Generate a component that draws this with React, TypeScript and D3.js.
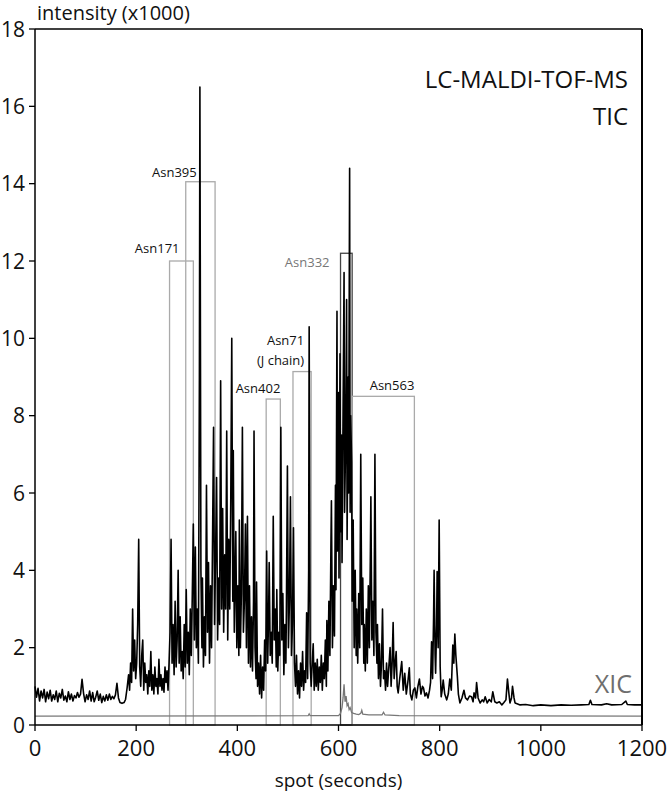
import React from "react";
import * as d3 from "d3";

// TIC trace: [spot (s), intensity x1000]
const tic: [number, number][] = [
  [0, 1.0], [3, 0.72], [6, 0.95], [9, 0.62], [12, 0.88], [15, 0.7], [18, 0.92], [21, 0.6], [24, 0.85], [27, 0.68],
  [30, 0.9], [33, 0.62], [36, 0.78], [39, 0.66], [42, 0.88], [45, 0.6], [48, 0.82], [51, 0.7], [54, 0.92], [57, 0.64],
  [60, 0.75], [63, 0.6], [66, 0.86], [69, 0.66], [72, 0.8], [75, 0.62], [78, 0.76], [81, 0.7], [84, 0.84], [87, 0.72],
  [90, 0.8], [93, 1.18], [96, 0.82], [99, 0.6], [102, 0.78], [105, 0.66], [108, 0.88], [111, 0.62], [114, 0.84], [117, 0.6],
  [120, 0.72], [123, 0.88], [126, 0.64], [129, 0.8], [132, 0.58], [135, 0.74], [138, 0.62], [141, 0.78], [144, 0.64], [147, 0.8],
  [150, 0.66], [153, 0.74], [156, 0.68], [159, 0.78], [162, 1.08], [165, 0.7], [168, 0.58], [172, 0.56], [176, 0.58], [179, 0.66],
  [182, 0.95], [185, 1.3], [187, 0.9], [189, 1.6], [191, 1.1], [193, 3.0], [195, 1.4], [197, 2.2], [199, 1.2], [201, 1.6],
  [203, 2.6], [205, 4.8], [207, 1.5], [209, 1.0], [211, 1.8], [213, 2.2], [215, 0.9], [217, 1.6], [219, 1.1], [221, 1.3],
  [223, 0.8], [225, 1.4], [227, 1.0], [229, 1.9], [231, 0.9], [233, 1.3], [235, 0.8], [237, 1.5], [239, 1.0], [241, 1.2],
  [243, 0.8], [245, 1.7], [247, 1.0], [249, 1.3], [251, 0.9], [253, 1.2], [255, 0.85], [257, 1.5], [259, 1.1], [261, 1.4],
  [263, 0.9], [265, 1.6], [267, 2.4], [269, 4.8], [271, 1.6], [273, 2.6], [275, 1.3], [277, 3.2], [279, 1.5], [281, 2.2],
  [283, 4.0], [285, 1.6], [287, 2.8], [289, 1.4], [291, 1.9], [293, 1.2], [295, 2.6], [297, 1.5], [299, 3.5], [301, 1.6],
  [303, 2.4], [305, 1.3], [307, 3.0], [309, 1.8], [311, 3.4], [313, 5.2], [315, 2.2], [317, 4.6], [319, 2.0], [321, 3.0],
  [323, 1.6], [325, 9.0], [326, 16.5], [328, 4.0], [330, 2.0], [331, 3.8], [333, 1.5], [335, 2.8], [337, 1.8], [339, 6.2],
  [341, 2.4], [343, 4.2], [345, 1.6], [347, 3.6], [349, 2.0], [351, 4.8], [353, 7.7], [355, 2.6], [357, 4.4], [359, 6.4],
  [361, 2.2], [363, 3.8], [365, 2.6], [367, 8.9], [369, 3.0], [371, 5.6], [373, 2.4], [375, 4.4], [377, 3.0], [379, 7.6],
  [381, 2.2], [383, 4.8], [385, 3.0], [387, 5.8], [389, 10.0], [391, 3.2], [392, 7.1], [394, 2.4], [396, 4.0], [397, 5.0],
  [399, 2.0], [401, 3.6], [403, 1.8], [404, 5.3], [406, 2.0], [408, 3.4], [410, 7.7], [412, 2.4], [414, 3.2], [416, 5.2],
  [418, 2.0], [420, 5.4], [422, 1.6], [424, 3.6], [426, 1.5], [428, 2.8], [430, 1.4], [432, 3.2], [433, 7.6], [435, 2.0],
  [437, 1.2], [438, 3.7], [440, 1.0], [442, 1.6], [444, 0.8], [446, 1.8], [448, 0.7], [450, 1.5], [452, 0.9], [454, 2.2],
  [456, 1.4], [458, 4.5], [460, 1.6], [462, 3.0], [463, 4.2], [465, 1.8], [467, 2.4], [469, 1.6], [471, 5.4], [473, 2.2],
  [475, 3.0], [477, 1.5], [478, 3.5], [480, 1.4], [482, 2.4], [484, 1.8], [486, 7.7], [488, 2.2], [490, 3.4], [492, 1.3],
  [494, 2.6], [496, 1.6], [497, 3.0], [499, 6.7], [501, 2.0], [503, 3.2], [505, 5.9], [507, 1.8], [509, 2.6], [511, 5.1],
  [513, 1.6], [515, 1.0], [517, 1.8], [519, 0.8], [521, 1.4], [523, 0.7], [525, 1.6], [527, 1.0], [529, 1.9], [531, 0.9],
  [533, 1.4], [535, 1.1], [537, 2.9], [539, 1.2], [541, 4.0], [542, 10.3], [544, 1.6], [546, 1.0], [548, 1.6], [550, 2.1],
  [552, 0.9], [554, 1.6], [556, 1.0], [558, 1.7], [560, 0.9], [562, 1.5], [564, 1.1], [566, 1.8], [568, 0.9], [570, 1.6],
  [572, 1.2], [574, 2.2], [576, 1.0], [577, 2.7], [579, 1.4], [581, 3.2], [583, 1.8], [585, 4.6], [586, 5.8], [588, 2.0],
  [590, 3.6], [592, 2.3], [594, 6.2], [595, 3.5], [597, 10.7], [598, 4.5], [600, 8.6], [601, 3.8], [603, 9.6], [604, 5.0],
  [606, 7.5], [607, 4.2], [609, 8.0], [611, 11.7], [612, 5.5], [614, 7.2], [616, 11.0], [617, 4.8], [619, 9.0], [620, 6.0],
  [622, 14.4], [623, 5.5], [624, 8.0], [626, 6.8], [627, 3.2], [629, 5.3], [631, 2.0], [633, 4.0], [635, 1.8], [636, 3.0],
  [638, 1.6], [640, 3.4], [642, 2.0], [644, 7.0], [646, 2.6], [648, 3.8], [650, 1.6], [651, 2.6], [653, 1.4], [655, 3.0],
  [657, 1.6], [659, 3.6], [661, 2.0], [663, 4.4], [664, 5.9], [666, 2.2], [668, 3.2], [670, 1.8], [672, 7.0], [674, 2.4],
  [676, 1.6], [677, 2.6], [679, 1.2], [681, 2.1], [683, 1.0], [685, 1.6], [687, 3.0], [689, 1.2], [691, 1.4], [693, 0.9],
  [695, 1.6], [697, 1.0], [699, 1.4], [702, 2.0], [704, 1.0], [706, 1.6], [708, 2.65], [710, 1.2], [712, 1.6], [714, 1.9],
  [716, 1.0], [718, 0.83], [721, 1.2], [725, 1.64], [728, 0.9], [731, 1.34], [734, 0.8], [737, 1.1], [740, 1.48], [742, 0.8],
  [745, 0.65], [748, 0.9], [751, 0.96], [754, 0.7], [757, 1.0], [760, 1.19], [763, 0.8], [766, 1.0], [768, 0.96], [771, 0.75],
  [774, 0.83], [777, 0.7], [780, 0.9], [782, 1.1], [784, 2.15], [786, 1.2], [788, 2.8], [789, 4.0], [791, 1.8], [792, 1.34],
  [794, 2.6], [795, 3.97], [797, 2.0], [799, 5.3], [801, 1.5], [803, 0.73], [805, 0.9], [807, 1.16], [810, 0.8], [814, 0.65],
  [817, 0.8], [820, 1.19], [823, 0.9], [826, 2.07], [828, 1.6], [830, 2.35], [832, 1.8], [835, 1.25], [837, 0.8], [840, 0.57],
  [844, 0.7], [848, 0.9], [851, 0.7], [855, 0.65], [859, 0.75], [863, 0.73], [866, 0.6], [868, 0.83], [871, 0.7], [873, 1.1],
  [876, 0.7], [880, 0.57], [884, 0.65], [887, 0.6], [890, 0.73], [894, 0.57], [898, 0.66], [902, 0.6], [905, 0.86], [909, 0.6],
  [913, 0.57], [918, 0.6], [923, 0.52], [927, 0.58], [931, 0.65], [934, 1.19], [937, 0.8], [939, 0.57], [942, 0.7], [944, 1.0],
  [947, 0.7], [949, 0.57], [953, 0.55], [959, 0.52], [970, 0.53], [985, 0.5], [1000, 0.52], [1020, 0.5], [1040, 0.52], [1060, 0.51],
  [1080, 0.52], [1095, 0.53], [1098, 0.64], [1101, 0.53], [1120, 0.52], [1130, 0.55], [1140, 0.52], [1160, 0.53], [1168, 0.62], [1171, 0.53],
  [1185, 0.52], [1200, 0.52],
];

// XIC trace
const xic: [number, number][] = [
  [0, 0.23], [540, 0.24], [542, 0.29], [544, 0.24], [600, 0.24], [604, 0.3], [607, 0.45], [609, 0.7], [611, 1.05], [613, 0.6],
  [615, 0.75], [617, 0.5], [619, 0.55], [621, 0.4], [623, 0.45], [626, 0.32], [630, 0.3], [635, 0.28], [640, 0.27], [644, 0.3],
  [646, 0.38], [648, 0.28], [660, 0.26], [686, 0.26], [689, 0.33], [692, 0.26], [720, 0.24], [1200, 0.23],
];

// glycosylation site windows
const siteNames = ["Asn171", "Asn395", "Asn402", "Asn71", "Asn332", "Asn563"];
const siteStart = [266, 298, 457, 510, 604, 627];
const siteEnd = [313, 356, 485, 546, 627, 750];
const siteTop = [12.0, 14.05, 8.43, 9.14, 12.2, 8.5];

const xTicks = [0, 200, 400, 600, 800, 1000, 1200];
const yTicks = [0, 2, 4, 6, 8, 10, 12, 14, 16, 18];

const W = 667;
const H = 798;
const FONT = "'Open Sans', sans-serif";

export default function App() {
  const x = d3.scaleLinear().domain([0, 1200]).range([35, 642]);
  const y = d3.scaleLinear().domain([0, 18]).range([725, 29]);

  const traceLine = d3
    .line<[number, number]>()
    .x((d) => x(d[0]))
    .y((d) => y(d[1]));

  // label placement for each site, relative to its box
  const labelPos = (i: number) => {
    const l = x(siteStart[i]);
    const r = x(siteEnd[i]);
    const t = y(siteTop[i]);
    switch (siteNames[i]) {
      case "Asn171": return { x: l + 10, y: t - 8 };
      case "Asn395": return { x: l + 11, y: t - 5 };
      case "Asn402": return { x: r, y: t - 6 };
      case "Asn71": return { x: r - 7, y: t - 27 };
      case "Asn332": return { x: l - 11, y: t + 14 };
      default: return { x: r, y: t - 6 };
    }
  };

  return (
    <svg width={W} height={H} style={{ position: "absolute", left: 0, top: 0, background: "#fff" }}>
      {/* site boxes */}
      {siteNames.map((name, i) => (
        <rect
          key={name}
          x={x(siteStart[i])}
          y={y(siteTop[i])}
          width={x(siteEnd[i]) - x(siteStart[i])}
          height={y(0) - y(siteTop[i])}
          fill="none"
          stroke={name === "Asn332" ? "#444" : "#aaa"}
          strokeWidth={1.3}
        />
      ))}

      {/* XIC */}
      <path d={traceLine(xic) || ""} fill="none" stroke="#777" strokeWidth={1.3} />
      {/* TIC */}
      <path d={traceLine(tic) || ""} fill="none" stroke="#000" strokeWidth={1.6} strokeLinejoin="round" />

      {/* frame */}
      <line x1={x(0)} x2={x(1200)} y1={y(18)} y2={y(18)} stroke="#000" strokeWidth={1.5} />
      <line x1={x(1200)} x2={x(1200)} y1={y(18)} y2={y(0)} stroke="#000" strokeWidth={2} />
      <line x1={x(0)} x2={x(0)} y1={y(18)} y2={y(0)} stroke="#000" strokeWidth={1.5} />
      <line x1={x(0)} x2={x(1200)} y1={y(0)} y2={y(0)} stroke="#000" strokeWidth={1.5} />

      {/* y axis */}
      {yTicks.map((t) => (
        <g key={"y" + t}>
          <line x1={x(0) - 6} x2={x(0)} y1={y(t)} y2={y(t)} stroke="#000" strokeWidth={1.3} />
          <text x={x(0) - 10} y={y(t)} dy="0.36em" textAnchor="end" fontFamily={FONT} fontSize={21} fill="#111">
            {t}
          </text>
        </g>
      ))}
      {/* x axis */}
      {xTicks.map((t) => (
        <g key={"x" + t}>
          <line x1={x(t)} x2={x(t)} y1={y(0)} y2={y(0) + 6} stroke="#000" strokeWidth={1.3} />
          <text x={x(t)} y={y(0) + 31} textAnchor="middle" fontFamily={FONT} fontSize={22} fill="#111">
            {t}
          </text>
        </g>
      ))}

      <text x={37} y={20} fontFamily={FONT} fontSize={20} fill="#111">intensity (x1000)</text>
      <text x={(x(0) + x(1200)) / 2} y={787} textAnchor="middle" fontFamily={FONT} fontSize={19} fill="#111">
        spot (seconds)
      </text>

      <text x={628} y={88} textAnchor="end" fontFamily={FONT} fontSize={24} fill="#111">LC-MALDI-TOF-MS</text>
      <text x={628} y={125} textAnchor="end" fontFamily={FONT} fontSize={24} fill="#111">TIC</text>
      <text x={632} y={693} textAnchor="end" fontFamily={FONT} fontSize={25} fill="#6e6e6e">XIC</text>

      {/* site labels */}
      {siteNames.map((name, i) => {
        const p = labelPos(i);
        const col = name === "Asn332" ? "#777" : "#111";
        if (name === "Asn71") {
          return (
            <text key={"l" + name} x={p.x} y={p.y} textAnchor="end" fontFamily={FONT} fontSize={13} fill={col}>
              <tspan x={p.x}>{name}</tspan>
              <tspan x={p.x} dy={20}>(J chain)</tspan>
            </text>
          );
        }
        return (
          <text key={"l" + name} x={p.x} y={p.y} textAnchor="end" fontFamily={FONT} fontSize={13} fill={col}>
            {name}
          </text>
        );
      })}
    </svg>
  );
}
